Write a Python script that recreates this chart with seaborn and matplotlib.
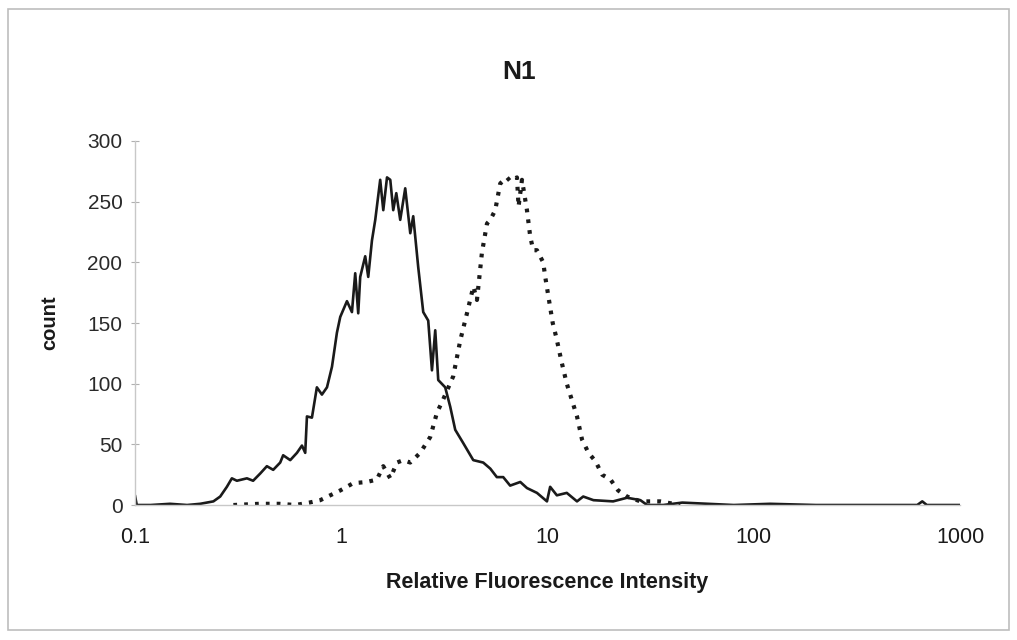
import numpy as np
import pandas as pd
import matplotlib
matplotlib.use("Agg")
import matplotlib.pyplot as plt
import seaborn as sns
from matplotlib.patches import Rectangle

# ---- data ----
solid_x = [0.100, 0.102, 0.119, 0.148, 0.179, 0.207, 0.240, 0.259, 0.279, 0.295,
           0.312, 0.349, 0.374, 0.405, 0.436, 0.468, 0.506, 0.523, 0.566, 0.610,
           0.645, 0.669, 0.682, 0.721, 0.762, 0.806, 0.853, 0.902, 0.953, 0.989,
           1.066, 1.127, 1.169, 1.209, 1.236, 1.307, 1.352, 1.409, 1.462, 1.545,
           1.599, 1.667, 1.729, 1.787, 1.849, 1.932, 2.043, 2.161, 2.234, 2.362,
           2.498, 2.641, 2.753, 2.856, 2.953, 3.192, 3.376, 3.570, 3.905, 4.366,
           4.88, 5.28, 5.68, 6.10, 6.59, 7.38, 7.95, 8.89, 9.94, 10.3,
           11.1, 12.4, 13.9, 14.9, 16.7, 20.8, 24.3, 28.2, 30.4, 36.4,
           45.0, 60.0, 80.0, 120.0, 200.0, 400.0, 620.0, 656.0, 690.0, 1000.0]
solid_y = [8, 0, 0, 1, 0, 1, 3, 7, 15, 22,
           20, 22, 20, 26, 32, 29, 35, 41, 37, 43,
           49, 43, 73, 72, 97, 91, 97, 114, 142, 155,
           168, 159, 191, 158, 188, 205, 188, 218, 235, 268,
           243, 270, 268, 243, 257, 235, 261, 224, 238, 196,
           159, 152, 111, 144, 103, 97, 81, 62, 51, 37,
           35, 30, 23, 23, 16, 19, 14, 10, 3, 15,
           8, 10, 3, 7, 4, 3, 6, 4, 0, 0,
           2, 1, 0, 1, 0, 0, 0, 3, 0, 0]

dotted_x = [0.30, 0.40, 0.50, 0.60, 0.70, 0.791, 0.989, 1.143, 1.332, 1.489,
            1.599, 1.729, 1.862, 2.00, 2.161, 2.415, 2.70, 2.91, 3.12, 3.49,
            3.78, 4.07, 4.37, 4.55, 4.81, 5.09, 5.28, 5.58, 5.90, 6.36,
            6.59, 7.11, 7.24, 7.52, 7.95, 8.25, 8.53, 8.89, 9.53, 9.75,
            10.3, 10.6, 11.0, 11.3, 11.7, 12.4, 13.1, 13.9, 14.7, 15.8,
            17.1, 18.4, 20.2, 22.0, 24.3, 28.2, 35.2, 44.0]
dotted_y = [0, 1, 1, 0, 2, 4, 12, 18, 19, 21,
            32, 22, 35, 37, 35, 43, 56, 76, 87, 106,
            136, 158, 180, 169, 208, 232, 235, 243, 265, 270,
            267, 270, 246, 268, 243, 221, 210, 210, 200, 188,
            163, 150, 139, 130, 118, 100, 87, 73, 54, 43,
            36, 25, 21, 12, 7, 3, 3, 0]

x_ticks = [0.1, 1, 10, 100, 1000]
x_tick_labels = ["0.1", "1", "10", "100", "1000"]
y_ticks = [0, 50, 100, 150, 200, 250, 300]

title = "N1"
x_label = "Relative Fluorescence Intensity"
y_label = "count"

# ---- plot ----
sns.set_theme(style="white")
plt.rcParams["font.family"] = ["Liberation Sans", "DejaVu Sans"]

fig = plt.figure(figsize=(10.17, 6.40), dpi=100)
ax = fig.add_axes([0.1327, 0.2109, 0.9440 - 0.1327, 0.7797 - 0.2109])

df_solid = pd.DataFrame({"x": solid_x, "y": solid_y})
df_dot = pd.DataFrame({"x": dotted_x, "y": dotted_y})

sns.lineplot(data=df_solid, x="x", y="y", ax=ax, color="#1a1a1a",
             linewidth=1.9, sort=False, estimator=None)
sns.lineplot(data=df_dot, x="x", y="y", ax=ax, color="#1a1a1a",
             linewidth=3.0, sort=False, estimator=None, linestyle=(0, (0.9, 1.7)))

ax.set_xscale("log")
ax.set_xlim(0.1, 1000)
ax.set_ylim(0, 300)
ax.set_xticks(x_ticks)
ax.set_xticklabels(x_tick_labels)
ax.minorticks_off()
ax.set_yticks(y_ticks)

for s in ["top", "right"]:
    ax.spines[s].set_visible(False)
for s in ["left", "bottom"]:
    ax.spines[s].set_color("#c8c8c8")
    ax.spines[s].set_linewidth(1.0)

ax.tick_params(axis="y", which="major", direction="inout", length=6, width=0.8,
               color="#b0b0b0", labelsize=15, labelcolor="#2a2a2a", pad=6, left=True)
ax.tick_params(axis="x", which="major", length=0, labelsize=15.5, labelcolor="#1a1a1a", pad=16)

ax.set_xlabel(x_label, fontsize=15.5, fontweight="bold", color="#1a1a1a", labelpad=17)
ax.set_ylabel(y_label, fontsize=14.5, fontweight="bold", color="#1a1a1a", labelpad=20)
fig.text(0.510, 0.888, title, ha="center", va="center", fontsize=19,
         fontweight="bold", color="#1a1a1a")

# outer chart frame
fig.patches.append(Rectangle((0.008, 0.016), 0.984, 0.97, transform=fig.transFigure,
                             fill=False, edgecolor="#bdbdbd", linewidth=1.2))

fig.savefig("out.png", dpi=100)
